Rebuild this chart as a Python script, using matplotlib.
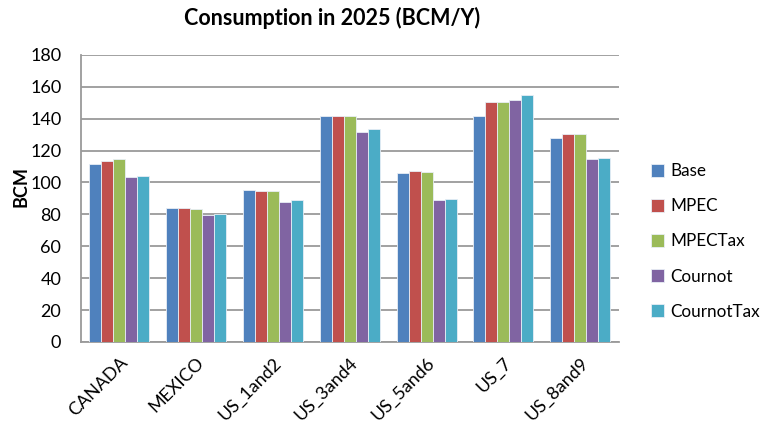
import matplotlib.pyplot as plt
import numpy as np

plt.rcParams['font.family'] = ['Lato', 'DejaVu Sans']

regions = ["CANADA", "MEXICO", "US_1and2", "US_3and4", "US_5and6", "US_7", "US_8and9"]
base = [111.5, 84.1, 95.4, 141.8, 105.9, 141.8, 127.6]
mpec = [113.4, 84.1, 94.6, 141.8, 106.9, 150.6, 130.5]
mpec_tax = [114.6, 83.3, 94.6, 141.8, 106.8, 150.6, 130.5]
cournot = [103.4, 79.6, 87.9, 131.6, 89.0, 151.4, 114.6]
cournot_tax = [104.2, 80.4, 89.0, 133.5, 89.8, 155.1, 115.5]

series = [base, mpec, mpec_tax, cournot, cournot_tax]
names = ["Base", "MPEC", "MPECTax", "Cournot", "CournotTax"]
colors = ["#4F81BD", "#C0504D", "#9BBB59", "#8064A2", "#4BACC6"]

fig = plt.figure(figsize=(7.62, 4.28), dpi=100)
ax = fig.add_axes([0.106, 0.201, 0.706, 0.671])

x = np.arange(len(regions))
w = 0.156
for i, (vals, name, c) in enumerate(zip(series, names, colors)):
    ax.bar(x + (i - 2) * w, vals, width=w, color=c, edgecolor="#E8EEF6",
           linewidth=0.6, label=name, zorder=3)

ax.set_xlim(-0.5, len(regions) - 0.5)
ax.set_ylim(0, 180)
ax.set_yticks(np.arange(0, 181, 20))
ax.yaxis.grid(True, color="#9A9A9A", linewidth=1.3, zorder=0)
ax.set_axisbelow(True)
for s in ["top", "right"]:
    ax.spines[s].set_visible(False)
for s in ["left", "bottom"]:
    ax.spines[s].set_color("#9A9A9A")
    ax.spines[s].set_linewidth(1.3)
ax.tick_params(axis="both", length=0, labelsize=13)
ax.tick_params(axis="y", pad=14)
ax.set_xticks(x)
ax.set_xticklabels(regions, rotation=45, ha="right", rotation_mode="anchor")
ax.tick_params(axis="x", pad=9)

ax.set_ylabel("BCM", fontsize=13, fontweight="bold")
ax.yaxis.set_label_coords(-0.095, 0.54)
fig.text(0.436, 0.958, "Consumption in 2025 (BCM/Y)", ha="center", va="center",
         fontsize=15.5, fontweight="bold")

ax.legend(loc="center left", bbox_to_anchor=(1.04, 0.35), frameon=False,
          fontsize=12.3, handlelength=0.8, handleheight=0.8, handletextpad=0.35,
          labelspacing=1.12, borderaxespad=0.2)

fig.savefig("out.png", dpi=100)
